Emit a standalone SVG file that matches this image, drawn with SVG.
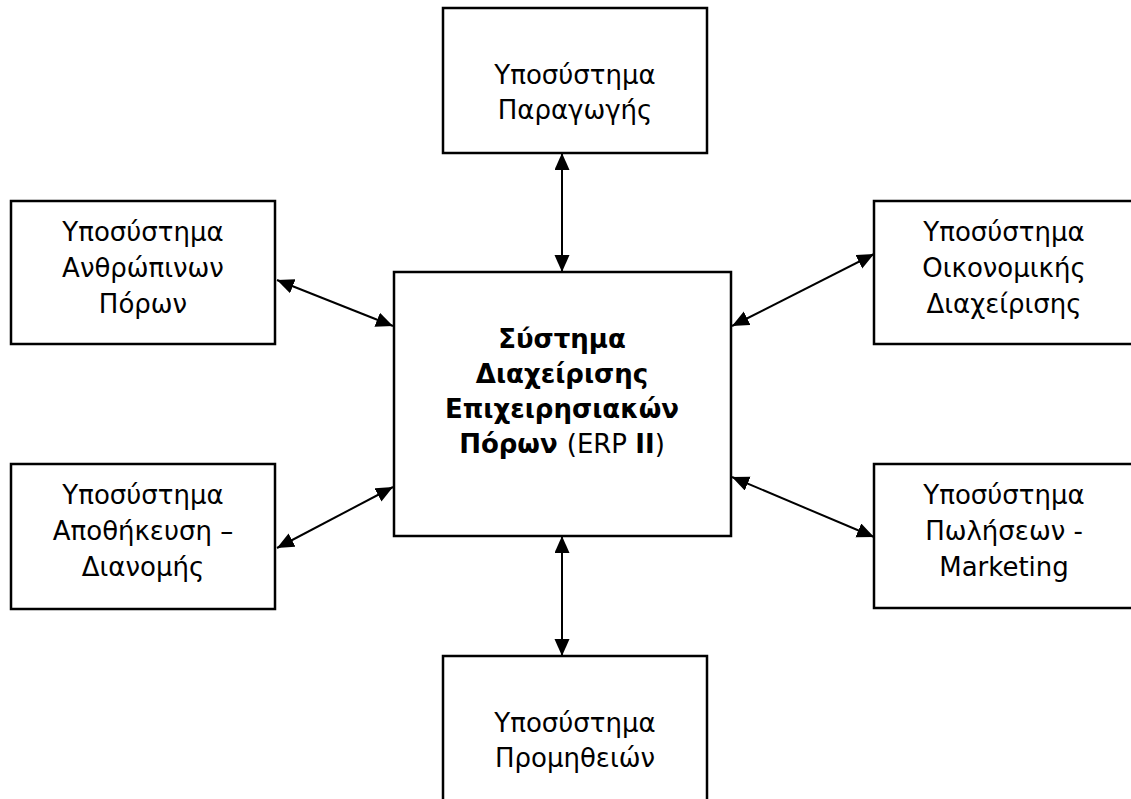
<svg xmlns="http://www.w3.org/2000/svg" width="1131" height="799" viewBox="0 0 1131 799">
<style>
.box{fill:#fff;stroke:#000;stroke-width:2.5}
.t{font-family:"DejaVu Sans","Liberation Sans",sans-serif;font-size:26px;fill:#000;text-anchor:middle}
.b{font-weight:bold}
.n{font-weight:normal}
.c{stroke:#000;stroke-width:2;fill:none;marker-start:url(#ah);marker-end:url(#ah)}
</style>
<defs>
<marker id="ah" markerUnits="userSpaceOnUse" markerWidth="18" markerHeight="16" refX="17" refY="7.5" orient="auto-start-reverse">
<path d="M0,0 L17,7.5 L0,15 z" fill="#000"/>
</marker>
</defs>
<rect width="1131" height="799" fill="#fff"/>
<g id="connectors">
<line class="c" x1="562" y1="153" x2="562" y2="272"/>
<line class="c" x1="562" y1="536" x2="562" y2="656"/>
<line class="c" x1="277" y1="280" x2="393" y2="326"/>
<line class="c" x1="732" y1="326" x2="874" y2="254"/>
<line class="c" x1="277" y1="548" x2="393" y2="487"/>
<line class="c" x1="732" y1="477" x2="874" y2="537"/>
</g>
<g id="center">
<rect class="box" x="394" y="272" width="337" height="264"/>
<text class="t b" x="562" y="348">Σύστημα</text>
<text class="t b" x="562" y="383">Διαχείρισης</text>
<text class="t b" x="562" y="418">Επιχειρησιακών</text>
<text class="t b" x="562" y="453">Πόρων <tspan class="n">(ERP </tspan>II<tspan class="n">)</tspan></text>
</g>
<g id="production">
<rect class="box" x="443" y="8" width="264" height="145"/>
<text class="t" x="575" y="84">Υποσύστημα</text>
<text class="t" x="575" y="119">Παραγωγής</text>
</g>
<g id="hr">
<rect class="box" x="11" y="201" width="264" height="143"/>
<text class="t" x="143" y="241">Υποσύστημα</text>
<text class="t" x="143" y="277">Ανθρώπινων</text>
<text class="t" x="143" y="313">Πόρων</text>
</g>
<g id="finance">
<rect class="box" x="874" y="201" width="262" height="143"/>
<text class="t" x="1004" y="241">Υποσύστημα</text>
<text class="t" x="1004" y="277">Οικονομικής</text>
<text class="t" x="1004" y="313">Διαχείρισης</text>
</g>
<g id="warehouse">
<rect class="box" x="11" y="464" width="264" height="145"/>
<text class="t" x="143" y="504">Υποσύστημα</text>
<text class="t" x="143" y="540">Αποθήκευση –</text>
<text class="t" x="143" y="576">Διανομής</text>
</g>
<g id="sales">
<rect class="box" x="874" y="464" width="262" height="144"/>
<text class="t" x="1004" y="504">Υποσύστημα</text>
<text class="t" x="1004" y="540">Πωλήσεων -</text>
<text class="t" x="1004" y="576">Marketing</text>
</g>
<g id="supplies">
<rect class="box" x="443" y="656" width="264" height="160"/>
<text class="t" x="575" y="732">Υποσύστημα</text>
<text class="t" x="575" y="767">Προμηθειών</text>
</g>
</svg>
